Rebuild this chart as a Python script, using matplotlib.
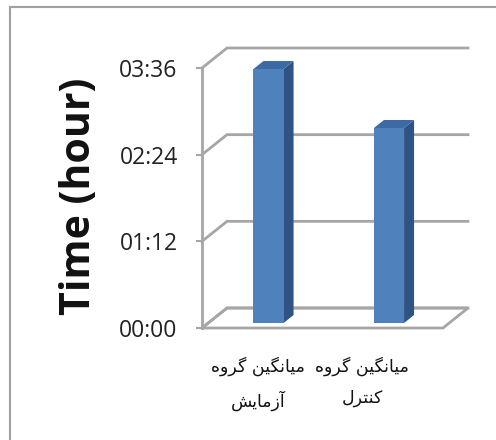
"""Pseudo-3D column chart: mean time of experimental vs control group."""

import matplotlib
matplotlib.use("Agg")
import matplotlib.pyplot as plt
from matplotlib.patches import Polygon, Rectangle
from matplotlib.lines import Line2D
from matplotlib.ticker import FuncFormatter

# ── Data ──────────────────────────────────────────────────────────────────
categories = ["میانگین گروه\nآزمایش", "میانگین گروه\nکنترل"]
minutes = [211, 162]          # mean time in minutes (03:31, 02:42)
y_ticks = [0, 72, 144, 216]   # 00:00 .. 03:36
y_label = "Time (hour)"

# ── Style ─────────────────────────────────────────────────────────────────
GRID = "#a6a6a6"
FRONT = "#4f81bd"
SIDE = "#2f5483"
TOP = "#3c6aa5"

# minimal Persian shaping (matplotlib has no complex text layout)
_FORMS = {
    "\u0622": ("\ufe81", "\ufe82"), "\u0627": ("\ufe8d", "\ufe8e"),
    "\u0631": ("\ufead", "\ufeae"), "\u0632": ("\ufeaf", "\ufeb0"),
    "\u0648": ("\ufeed", "\ufeee"),
    "\u062a": ("\ufe95", "\ufe96", "\ufe97", "\ufe98"),
    "\u0634": ("\ufeb5", "\ufeb6", "\ufeb7", "\ufeb8"),
    "\u0644": ("\ufedd", "\ufede", "\ufedf", "\ufee0"),
    "\u0645": ("\ufee1", "\ufee2", "\ufee3", "\ufee4"),
    "\u0646": ("\ufee5", "\ufee6", "\ufee7", "\ufee8"),
    "\u0647": ("\ufee9", "\ufeea", "\ufeeb", "\ufeec"),
    "\u06a9": ("\ufb8e", "\ufb8f", "\ufb90", "\ufb91"),
    "\u06af": ("\ufb92", "\ufb93", "\ufb94", "\ufb95"),
    "\u06cc": ("\ufbfc", "\ufbfd", "\ufbfe", "\ufbff"),
}


def _shape_line(s: str) -> str:
    out = []
    for i, ch in enumerate(s):
        forms = _FORMS.get(ch)
        if forms is None:
            out.append(ch)
            continue
        prev = s[i - 1] if i > 0 else ""
        nxt = s[i + 1] if i + 1 < len(s) else ""
        join_prev = len(_FORMS.get(prev, ())) == 4
        join_next = len(forms) == 4 and nxt in _FORMS
        if join_prev and join_next:
            out.append(forms[3])
        elif join_prev:
            out.append(forms[1])
        elif join_next:
            out.append(forms[2])
        else:
            out.append(forms[0])
    return "".join(reversed(out))


def shape(s: str) -> str:
    return "\n".join(_shape_line(line) for line in s.split("\n"))


W, H = 496, 440
fig = plt.figure(figsize=(W / 100, H / 100), dpi=100)

# chart-area border (only top/left visible in the crop)
fig.add_artist(Line2D([10 / W, 10 / W], [0, 1 - 7 / H], color="#a0a0a0", lw=1.5))
fig.add_artist(Line2D([10 / W, 1], [1 - 7 / H, 1 - 7 / H], color="#a0a0a0", lw=1.5))

# front plane of the 3D box
ax = fig.add_axes([202 / W, (H - 328) / H, 241 / W, 260 / H])
ax.set_xlim(0, len(categories))
ax.set_ylim(y_ticks[0], y_ticks[-1])

DX = 25 / 120.5                  # depth offset, category units
DY = 20 * y_ticks[-1] / 260      # depth offset, minutes
x_end = len(categories) + DX

# back wall gridlines with their diagonal links to the front axis
for t in y_ticks:
    ax.plot([0, DX, x_end], [t, t + DY, t + DY], color=GRID, lw=2,
            clip_on=False, zorder=1, solid_joinstyle="miter")

# floor
floor = Polygon([(0, 0), (len(categories), 0), (x_end, DY), (DX, DY)],
                closed=True, fill=False, edgecolor=GRID, lw=2, clip_on=False, zorder=1)
ax.add_patch(floor)

# bars
bw = 0.25
d0, d1 = 0.25, 0.4
for i, v in enumerate(minutes):
    x0 = i + 0.5 - bw / 2 + d0 * DX
    x1 = x0 + bw
    y0 = d0 * DY
    sx, sy = d1 * DX, d1 * DY
    ax.add_patch(Polygon([(x1, y0), (x1 + sx, y0 + sy), (x1 + sx, y0 + v + sy), (x1, y0 + v)],
                         closed=True, facecolor=SIDE, edgecolor="none", clip_on=False, zorder=3))
    ax.add_patch(Polygon([(x0, y0 + v), (x0 + sx, y0 + v + sy), (x1 + sx, y0 + v + sy), (x1, y0 + v)],
                         closed=True, facecolor=TOP, edgecolor="none", clip_on=False, zorder=3))
    ax.add_patch(Rectangle((x0, y0), bw, v, facecolor=FRONT, edgecolor="none",
                           clip_on=False, zorder=4))

# axis styling
for side in ("top", "right", "bottom"):
    ax.spines[side].set_visible(False)
ax.spines["left"].set_color(GRID)
ax.spines["left"].set_linewidth(2)
ax.set_yticks(y_ticks)
ax.yaxis.set_major_formatter(FuncFormatter(lambda m, _: f"{int(m) // 60:02d}:{int(m) % 60:02d}"))
ax.tick_params(axis="y", length=4.5, width=1.5, color=GRID, pad=13,
               labelsize=16.5, labelcolor="#222222")
for lab in ax.get_yticklabels():
    lab.set_fontfamily("Open Sans")
ax.set_xticks([])
ax.patch.set_visible(False)

fig.text(80 / W, 1 - 196 / H, y_label, rotation=90, ha="center", va="center",
         fontsize=29.5, fontweight="bold", family="Open Sans", color="#111111")

# category labels sit under the floor, as Excel wraps them
label_x = [0.465, 1.33]
for x, lab in zip(label_x, categories):
    ax.text(x, -0.108, shape(lab), transform=ax.get_xaxis_transform(),
            ha="center", va="top", multialignment="center",
            fontsize=12.5, family="DejaVu Sans", linespacing=1.9, color="#111111")

fig.savefig("out.png", dpi=100)
